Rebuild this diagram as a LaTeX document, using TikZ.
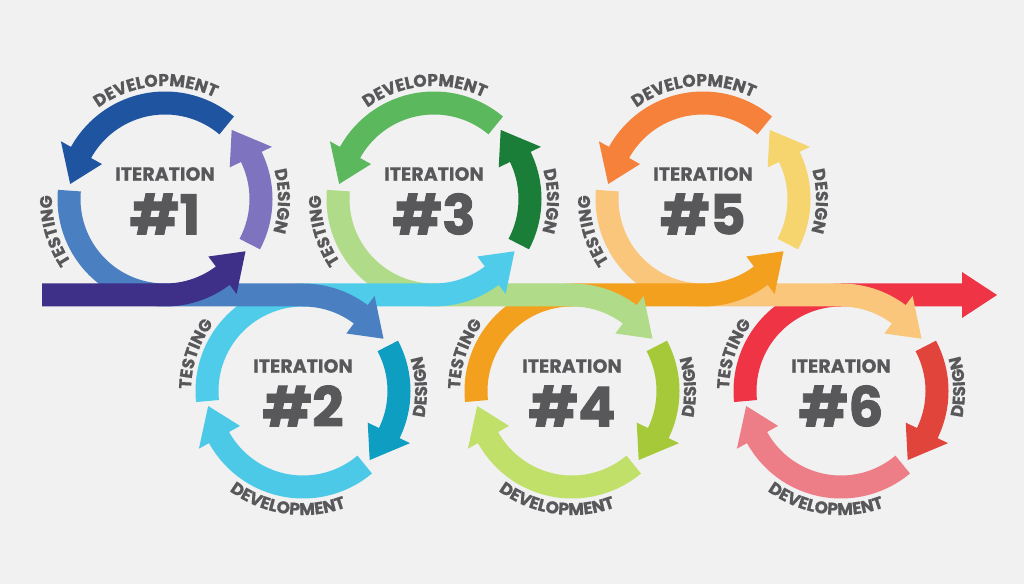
\documentclass[tikz,border=0pt]{standalone}
\usepackage{fontspec}
\setmainfont{Poppins}
\newfontfamily\heavy{Poppins}[BoldFeatures={FakeBold=1.6}]
\newfontfamily\semiheavy{Poppins}[BoldFeatures={FakeBold=0.7}]
\usetikzlibrary{decorations.text}
\definecolor{bg}{HTML}{F1F1F2}
\definecolor{txt}{HTML}{58585A}
\definecolor{pst}{HTML}{3E2F88}
\definecolor{ra}{HTML}{7D73BF}\definecolor{rb}{HTML}{1F55A0}\definecolor{rc}{HTML}{4A80C1}
\definecolor{sa}{HTML}{0E9EC2}\definecolor{sb}{HTML}{4DC9E8}\definecolor{sc}{HTML}{4ECCE9}
\definecolor{ta}{HTML}{1A7E38}\definecolor{tb}{HTML}{5BB85D}\definecolor{tc}{HTML}{B0DB88}
\definecolor{ua}{HTML}{A6C93A}\definecolor{ub}{HTML}{C0E06A}\definecolor{uc}{HTML}{F3A01E}
\definecolor{va}{HTML}{F6D46E}\definecolor{vb}{HTML}{F5813A}\definecolor{vc}{HTML}{FAC67B}
\definecolor{wa}{HTML}{E1443A}\definecolor{wb}{HTML}{ED7E88}\definecolor{wc}{HTML}{EF3446}
\newcommand{\labfont}{\semiheavy\fontsize{17}{17}\selectfont\bfseries}
% arrow head: cx cy base tip colour
\newcommand{\ahead}[5]{\fill[#5] ([shift={(#1,#2)}]#3:72) -- ([shift={(#1,#2)}]#4:96) -- ([shift={(#1,#2)}]#3:119) -- cycle;}
% ring arc: cx cy start base tip colour
\newcommand{\rarc}[6]{\pgfmathsetmacro\stopang{#4+(#5-#4)/10}%
  \draw[band,#6] ([shift={(#1,#2)}]#3:96) arc[start angle=#3,end angle=\stopang,radius=96];%
  \ahead{#1}{#2}{#4}{#5}{#6}}
\newcommand{\toplabels}[2]{%
  \node[itfont] (it#2) at (#1,410) {ITERATION};
  \node[numfont] (num#2) at (#1,370) {\##2};
  \path[decorate,decoration={text along path,text={|\labfont|DEVELOPMENT},text align=center,text color=txt}] ([shift={(#1,385)}]165:113) arc[start angle=165,end angle=25,radius=113];
  \path[decorate,decoration={text along path,text={|\labfont|DESIGN},text align=center,text color=txt}] ([shift={(#1,385)}]40:113) arc[start angle=40,end angle=-42,radius=113];
  \path[decorate,decoration={text along path,text={|\labfont|TESTING},text align=center,text color=txt}] ([shift={(#1,385)}]236:113) arc[start angle=236,end angle=156,radius=113];}
\newcommand{\botlabels}[2]{%
  \node[itfont] (it#2) at (#1,218) {ITERATION};
  \node[numfont] (num#2) at (#1,178) {\##2};
  \path[decorate,decoration={text along path,text={|\labfont|DEVELOPMENT},text align=center,text color=txt}] ([shift={(#1,193)}]200:124) arc[start angle=200,end angle=324,radius=124];
  \path[decorate,decoration={text along path,text={|\labfont|DESIGN},text align=center,text color=txt}] ([shift={(#1,193)}]-40:124) arc[start angle=-40,end angle=44,radius=124];
  \path[decorate,decoration={text along path,text={|\labfont|TESTING},text align=center,text color=txt}] ([shift={(#1,193)}]200:112) arc[start angle=200,end angle=122,radius=112];}
\begin{document}
\begin{tikzpicture}[x=1pt,y=1pt,
  band/.style={line width=23pt},
  itfont/.style={font=\semiheavy\fontsize{19}{19}\selectfont\bfseries,text=txt,inner sep=0pt},
  numfont/.style={font=\heavy\fontsize{55}{55}\selectfont\bfseries,text=txt,inner sep=0pt}]
\fill[bg] (0,0) rectangle (1024,584);
\useasboundingbox (0,0) rectangle (1024,584);
% connectors, last first
\draw[band,wc] ([shift={(841,193)}]186:96) arc[start angle=186,end angle=90,radius=96] -- (966,289);
\fill[wc] (962,312) -- (997,289) -- (962,266) -- cycle;
\draw[band,vc] ([shift={(703,385)}]175:96) arc[start angle=175,end angle=270,radius=96] -- (841,289) arc[start angle=90,end angle=51,radius=96];
\ahead{841}{193}{53}{33}{vc}
\draw[band,uc] ([shift={(572,193)}]186:96) arc[start angle=186,end angle=90,radius=96] -- (703,289) arc[start angle=270,end angle=309,radius=96];
\ahead{703}{385}{307}{327}{uc}
\draw[band,tc] ([shift={(434,385)}]175:96) arc[start angle=175,end angle=270,radius=96] -- (572,289) arc[start angle=90,end angle=51,radius=96];
\ahead{572}{193}{53}{33}{tc}
\draw[band,sc] ([shift={(303,193)}]186:96) arc[start angle=186,end angle=90,radius=96] -- (434,289) arc[start angle=270,end angle=309,radius=96];
\ahead{434}{385}{307}{327}{sc}
\draw[band,rc] ([shift={(165,385)}]175:96) arc[start angle=175,end angle=270,radius=96] -- (303,289) arc[start angle=90,end angle=51,radius=96];
\ahead{303}{193}{53}{33}{rc}
\draw[band,pst] (42,289) -- (165,289) arc[start angle=270,end angle=309,radius=96];
\ahead{165}{385}{307}{327}{pst}
% ring arcs
\rarc{165}{385}{-28}{26}{46}{ra}\rarc{165}{385}{50}{151}{171}{rb}
\rarc{434}{385}{-28}{26}{46}{ta}\rarc{434}{385}{50}{151}{171}{tb}
\rarc{703}{385}{-28}{26}{46}{va}\rarc{703}{385}{50}{151}{171}{vb}
\rarc{303}{193}{28}{-26}{-46}{sa}\rarc{303}{193}{-50}{-151}{-171}{sb}
\rarc{572}{193}{28}{-26}{-46}{ua}\rarc{572}{193}{-50}{-151}{-171}{ub}
\rarc{841}{193}{28}{-26}{-46}{wa}\rarc{841}{193}{-50}{-151}{-171}{wb}
% labels
\toplabels{165}{1}
\toplabels{434}{3}
\toplabels{703}{5}
\botlabels{303}{2}
\botlabels{572}{4}
\botlabels{841}{6}
\end{tikzpicture}
\end{document}
